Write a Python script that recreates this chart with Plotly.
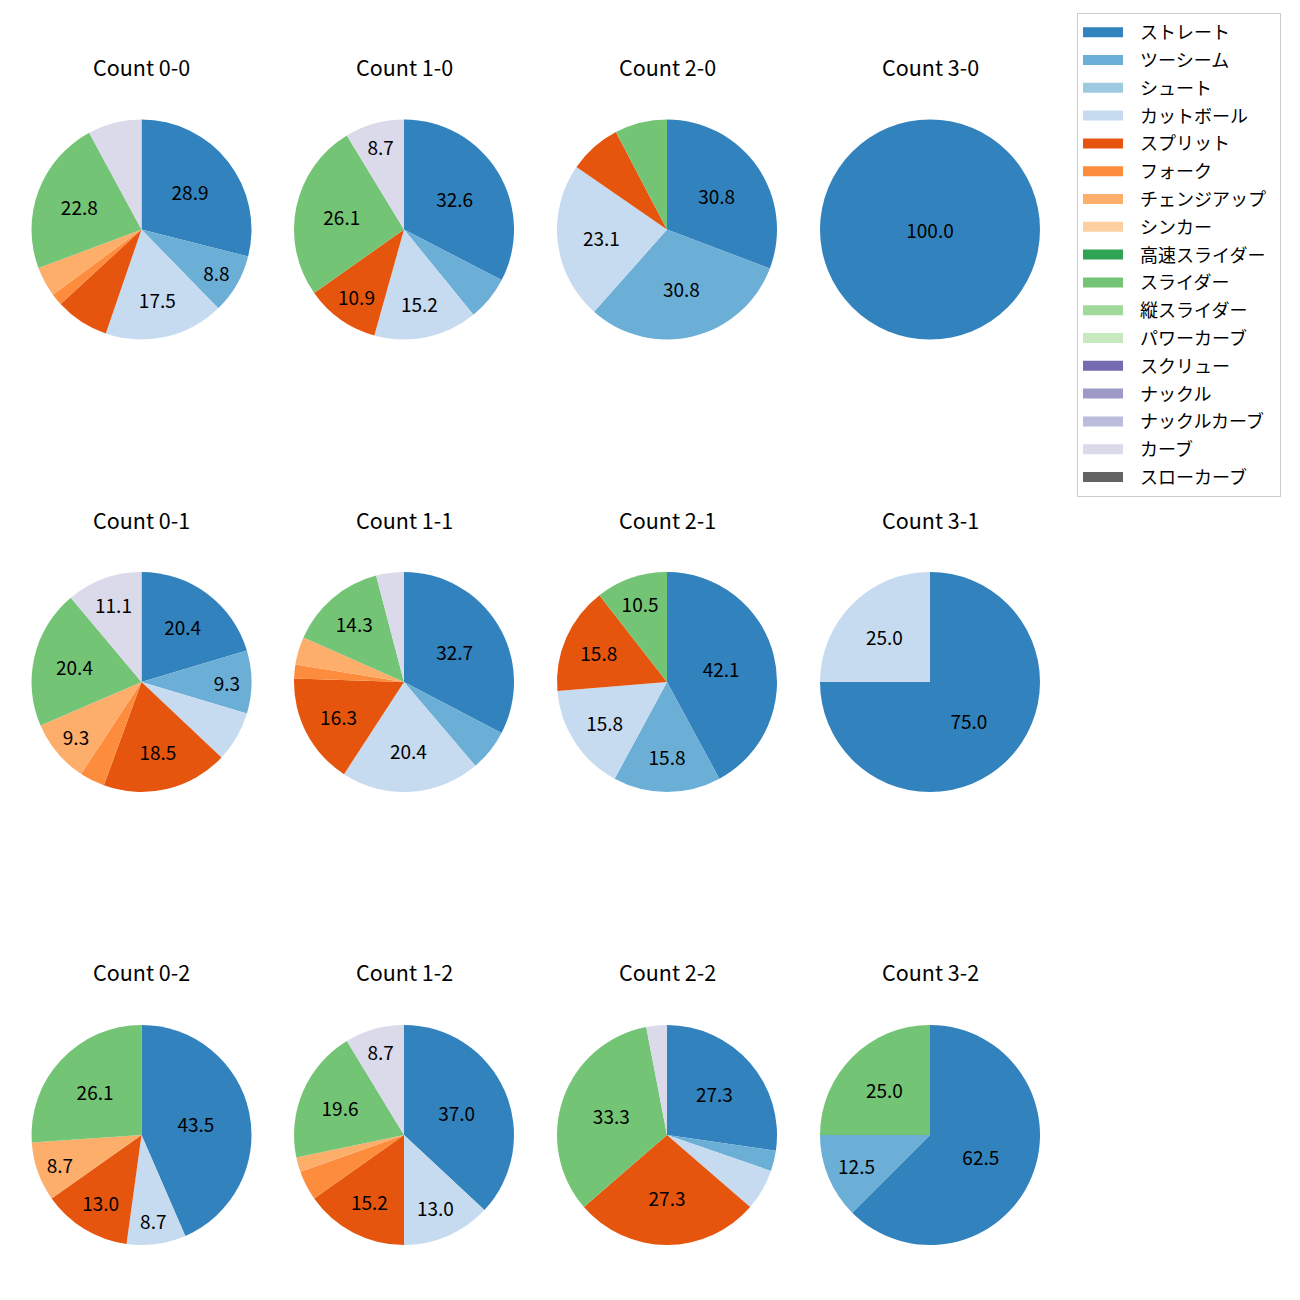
import plotly.graph_objects as go

pitch_types = ["ストレート", "ツーシーム", "シュート", "カットボール", "スプリット", "フォーク",
               "チェンジアップ", "シンカー", "高速スライダー", "スライダー", "縦スライダー",
               "パワーカーブ", "スクリュー", "ナックル", "ナックルカーブ", "カーブ", "スローカーブ"]
colors = ["#3182bd", "#6baed6", "#9ecae1", "#c6dbef", "#e6550d", "#fd8d3c", "#fdae6b", "#fdd0a2",
          "#31a354", "#74c476", "#a1d99b", "#c7e9c0", "#756bb1", "#9e9ac8", "#bcbddc", "#dadaeb", "#636363"]

count_titles = ["Count 0-0", "Count 1-0", "Count 2-0", "Count 3-0",
                "Count 0-1", "Count 1-1", "Count 2-1", "Count 3-1",
                "Count 0-2", "Count 1-2", "Count 2-2", "Count 3-2"]

# pitch counts, in pitch_types order
c_0_0 = [33, 10, 0, 20, 9, 2, 5, 0, 0, 26, 0, 0, 0, 0, 0, 9, 0]
c_1_0 = [15, 3, 0, 7, 5, 0, 0, 0, 0, 12, 0, 0, 0, 0, 0, 4, 0]
c_2_0 = [4, 4, 0, 3, 1, 0, 0, 0, 0, 1, 0, 0, 0, 0, 0, 0, 0]
c_3_0 = [1, 0, 0, 0, 0, 0, 0, 0, 0, 0, 0, 0, 0, 0, 0, 0, 0]
c_0_1 = [11, 5, 0, 4, 10, 2, 5, 0, 0, 11, 0, 0, 0, 0, 0, 6, 0]
c_1_1 = [16, 3, 0, 10, 8, 1, 2, 0, 0, 7, 0, 0, 0, 0, 0, 2, 0]
c_2_1 = [8, 3, 0, 3, 3, 0, 0, 0, 0, 2, 0, 0, 0, 0, 0, 0, 0]
c_3_1 = [3, 0, 0, 1, 0, 0, 0, 0, 0, 0, 0, 0, 0, 0, 0, 0, 0]
c_0_2 = [10, 0, 0, 2, 3, 0, 2, 0, 0, 6, 0, 0, 0, 0, 0, 0, 0]
c_1_2 = [17, 0, 0, 6, 7, 2, 1, 0, 0, 9, 0, 0, 0, 0, 0, 4, 0]
c_2_2 = [9, 1, 0, 2, 9, 0, 0, 0, 0, 11, 0, 0, 0, 0, 0, 1, 0]
c_3_2 = [5, 1, 0, 0, 0, 0, 0, 0, 0, 2, 0, 0, 0, 0, 0, 0, 0]

all_counts = [c_0_0, c_1_0, c_2_0, c_3_0, c_0_1, c_1_1, c_2_1, c_3_1, c_0_2, c_1_2, c_2_2, c_3_2]

W = H = 1300
OFF = 8  # page body margin
col_cx = [141.5, 404, 667, 930]
row_cy = [229.5, 682, 1135]
title_y = [67, 519, 971]
R = 110
FONT = "Noto Sans CJK JP"


def px_x(x):
    return (x - OFF) / W


def px_y(y):
    return 1 - (y - OFF) / H


fig = go.Figure()
annotations = []
for i, vals in enumerate(all_counts):
    r, c = divmod(i, 4)
    labs = [p for p, v in zip(pitch_types, vals) if v > 0]
    vs = [v for v in vals if v > 0]
    cols = [col for col, v in zip(colors, vals) if v > 0]
    tot = sum(vs)
    txt = [f"{v / tot * 100:.1f}" if v / tot * 100 >= 8 else "" for v in vs]
    cx, cy = col_cx[c], row_cy[r]
    fig.add_trace(go.Pie(
        labels=labs, values=vs, text=txt, textinfo="text",
        textposition="inside", insidetextorientation="horizontal",
        textfont=dict(size=19, color="black", family=FONT),
        marker=dict(colors=cols, line=dict(width=0)),
        sort=False, direction="clockwise", rotation=0,
        showlegend=False, hoverinfo="label+percent",
        domain=dict(x=[px_x(cx - R), px_x(cx + R)], y=[px_y(cy + R), px_y(cy - R)]),
    ))
    annotations.append(dict(text=count_titles[i], x=px_x(cx), y=px_y(title_y[r]),
                            xref="paper", yref="paper", showarrow=False,
                            xanchor="center", yanchor="middle",
                            font=dict(size=21.5, color="black", family=FONT)))

NB = "\u00a0"
for p, col in zip(pitch_types, colors):
    fig.add_trace(go.Scatter(x=[None], y=[None], mode="lines", name=NB * 3 + p + NB * 2,
                             legendgroup=p, line=dict(color=col, width=13), showlegend=True))

fig.update_layout(
    width=W, height=H, margin=dict(l=0, r=0, t=0, b=0),
    paper_bgcolor="white", plot_bgcolor="white",
    xaxis=dict(visible=False), yaxis=dict(visible=False),
    annotations=annotations,
    uniformtext=dict(minsize=19, mode="show"),
    legend=dict(x=px_x(1077), y=px_y(13), xanchor="left", yanchor="top",
                bgcolor="white", bordercolor="#cccccc", borderwidth=1,
                font=dict(size=18, color="black", family=FONT),
                traceorder="grouped", tracegroupgap=1.4, itemwidth=40),
    font=dict(family=FONT),
)
fig.write_html("out.html")
